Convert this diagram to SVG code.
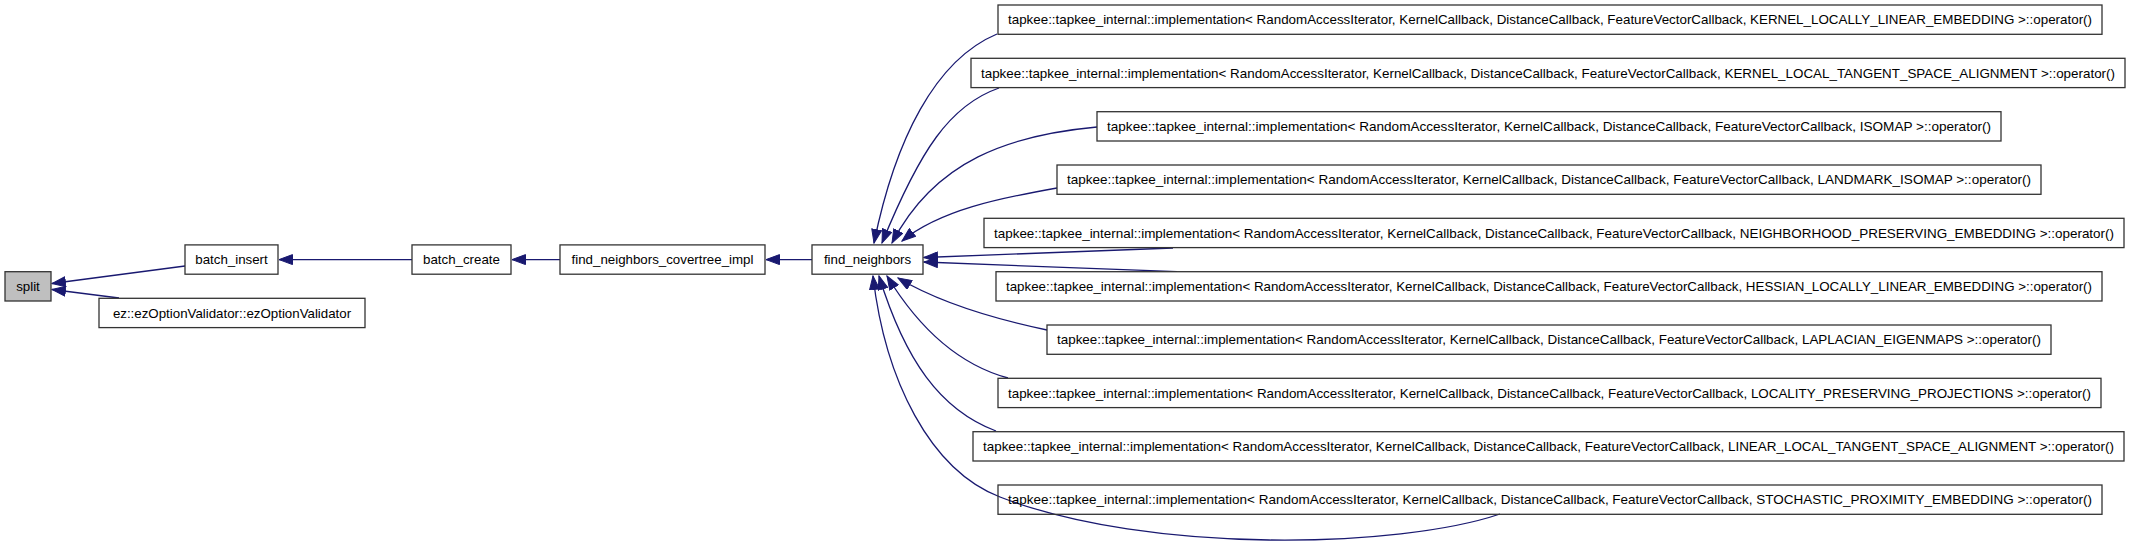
<svg xmlns="http://www.w3.org/2000/svg" width="2133" height="550" viewBox="0 0 2133 550">
<style>
.n rect{fill:#fff;stroke:#333;stroke-width:1.3}
.n text{font-family:"Liberation Sans",Arial,sans-serif;font-size:13.3px;fill:#000;text-anchor:middle}
.e path{fill:none;stroke:#191970;stroke-width:1.3;marker-end:url(#ah)}
</style>
<defs>
<marker id="ah" markerUnits="userSpaceOnUse" markerWidth="15" markerHeight="11" refX="14" refY="5.5" orient="auto">
<path d="M0.5,0.5 L14,5.5 L0.5,10.5 z" fill="#191970" stroke="#191970" stroke-width="1"/>
</marker>
</defs>
<rect width="2133" height="550" fill="#fff"/>
<g id="connectors" class="e">
<path d="M185,266 L52,283.5"/>
<path d="M119,298 L52,289.5"/>
<path d="M412,259.6 L279,259.6"/>
<path d="M560,259.6 L512,259.6"/>
<path d="M812,259.6 L766,259.6"/>
<path d="M997,34 C935,60 895,140 874,243"/>
<path d="M999,88 C950,105 920,150 882,243"/>
<path d="M1097,127 C1010,135 935,160 892,243"/>
<path d="M1057,188 C1000,198 940,210 902,241"/>
<path d="M1173,248 L924,257.5"/>
<path d="M1177,271.7 L924,262"/>
<path d="M1047,330 C990,318 935,300 898,278"/>
<path d="M1008,378 C960,365 920,330 887,276"/>
<path d="M996,431 C940,410 905,360 879,276"/>
<path d="M1500,514 C1400,548 1150,555 1000,497 C930,470 885,380 873,276"/>
</g>
<g id="split" class="n"><rect x="5" y="271.7" width="46" height="29.3" style="fill:#bfbfbf"/><text x="28" y="291">split</text></g>
<g id="batch_insert" class="n"><rect x="185" y="244.9" width="93" height="29.3"/><text x="231.5" y="264.3">batch_insert</text></g>
<g id="ezOptionValidator" class="n"><rect x="99" y="298.3" width="266" height="29.3"/><text x="232" y="317.7">ez::ezOptionValidator::ezOptionValidator</text></g>
<g id="batch_create" class="n"><rect x="412" y="244.9" width="99" height="29.3"/><text x="461.5" y="264.3">batch_create</text></g>
<g id="find_neighbors_covertree_impl" class="n"><rect x="560" y="244.9" width="205" height="29.3"/><text x="662.5" y="264.3">find_neighbors_covertree_impl</text></g>
<g id="find_neighbors" class="n"><rect x="812" y="244.9" width="111" height="29.3"/><text x="867.5" y="264.3">find_neighbors</text></g>
<g id="kernel_lle" class="n"><rect x="998" y="5" width="1104" height="29.3"/><text x="1550" y="24.4" textLength="1084" lengthAdjust="spacingAndGlyphs">tapkee::tapkee_internal::implementation&lt; RandomAccessIterator, KernelCallback, DistanceCallback, FeatureVectorCallback, KERNEL_LOCALLY_LINEAR_EMBEDDING &gt;::operator()</text></g>
<g id="kernel_ltsa" class="n"><rect x="971" y="58.3" width="1154" height="29.3"/><text x="1548" y="77.7" textLength="1134" lengthAdjust="spacingAndGlyphs">tapkee::tapkee_internal::implementation&lt; RandomAccessIterator, KernelCallback, DistanceCallback, FeatureVectorCallback, KERNEL_LOCAL_TANGENT_SPACE_ALIGNMENT &gt;::operator()</text></g>
<g id="isomap" class="n"><rect x="1097" y="111.7" width="904" height="29.3"/><text x="1549" y="131.1" textLength="884" lengthAdjust="spacingAndGlyphs">tapkee::tapkee_internal::implementation&lt; RandomAccessIterator, KernelCallback, DistanceCallback, FeatureVectorCallback, ISOMAP &gt;::operator()</text></g>
<g id="landmark_isomap" class="n"><rect x="1057" y="165" width="984" height="29.3"/><text x="1549" y="184.4" textLength="964" lengthAdjust="spacingAndGlyphs">tapkee::tapkee_internal::implementation&lt; RandomAccessIterator, KernelCallback, DistanceCallback, FeatureVectorCallback, LANDMARK_ISOMAP &gt;::operator()</text></g>
<g id="npe" class="n"><rect x="984" y="218.3" width="1140" height="29.3"/><text x="1554" y="237.7" textLength="1120" lengthAdjust="spacingAndGlyphs">tapkee::tapkee_internal::implementation&lt; RandomAccessIterator, KernelCallback, DistanceCallback, FeatureVectorCallback, NEIGHBORHOOD_PRESERVING_EMBEDDING &gt;::operator()</text></g>
<g id="hessian_lle" class="n"><rect x="996" y="271.7" width="1106" height="29.3"/><text x="1549" y="291.1" textLength="1086" lengthAdjust="spacingAndGlyphs">tapkee::tapkee_internal::implementation&lt; RandomAccessIterator, KernelCallback, DistanceCallback, FeatureVectorCallback, HESSIAN_LOCALLY_LINEAR_EMBEDDING &gt;::operator()</text></g>
<g id="laplacian_eigenmaps" class="n"><rect x="1047" y="325" width="1004" height="29.3"/><text x="1549" y="344.4" textLength="984" lengthAdjust="spacingAndGlyphs">tapkee::tapkee_internal::implementation&lt; RandomAccessIterator, KernelCallback, DistanceCallback, FeatureVectorCallback, LAPLACIAN_EIGENMAPS &gt;::operator()</text></g>
<g id="lpp" class="n"><rect x="998" y="378.3" width="1103" height="29.3"/><text x="1549.5" y="397.7" textLength="1083" lengthAdjust="spacingAndGlyphs">tapkee::tapkee_internal::implementation&lt; RandomAccessIterator, KernelCallback, DistanceCallback, FeatureVectorCallback, LOCALITY_PRESERVING_PROJECTIONS &gt;::operator()</text></g>
<g id="linear_ltsa" class="n"><rect x="973" y="431.7" width="1151" height="29.3"/><text x="1548.5" y="451.1" textLength="1131" lengthAdjust="spacingAndGlyphs">tapkee::tapkee_internal::implementation&lt; RandomAccessIterator, KernelCallback, DistanceCallback, FeatureVectorCallback, LINEAR_LOCAL_TANGENT_SPACE_ALIGNMENT &gt;::operator()</text></g>
<g id="spe" class="n" style="fill-opacity:0"><rect x="998" y="485" width="1104" height="29.3" style="fill:none"/><text x="1550" y="504.4" textLength="1084" lengthAdjust="spacingAndGlyphs" style="fill-opacity:1">tapkee::tapkee_internal::implementation&lt; RandomAccessIterator, KernelCallback, DistanceCallback, FeatureVectorCallback, STOCHASTIC_PROXIMITY_EMBEDDING &gt;::operator()</text></g>
</svg>
